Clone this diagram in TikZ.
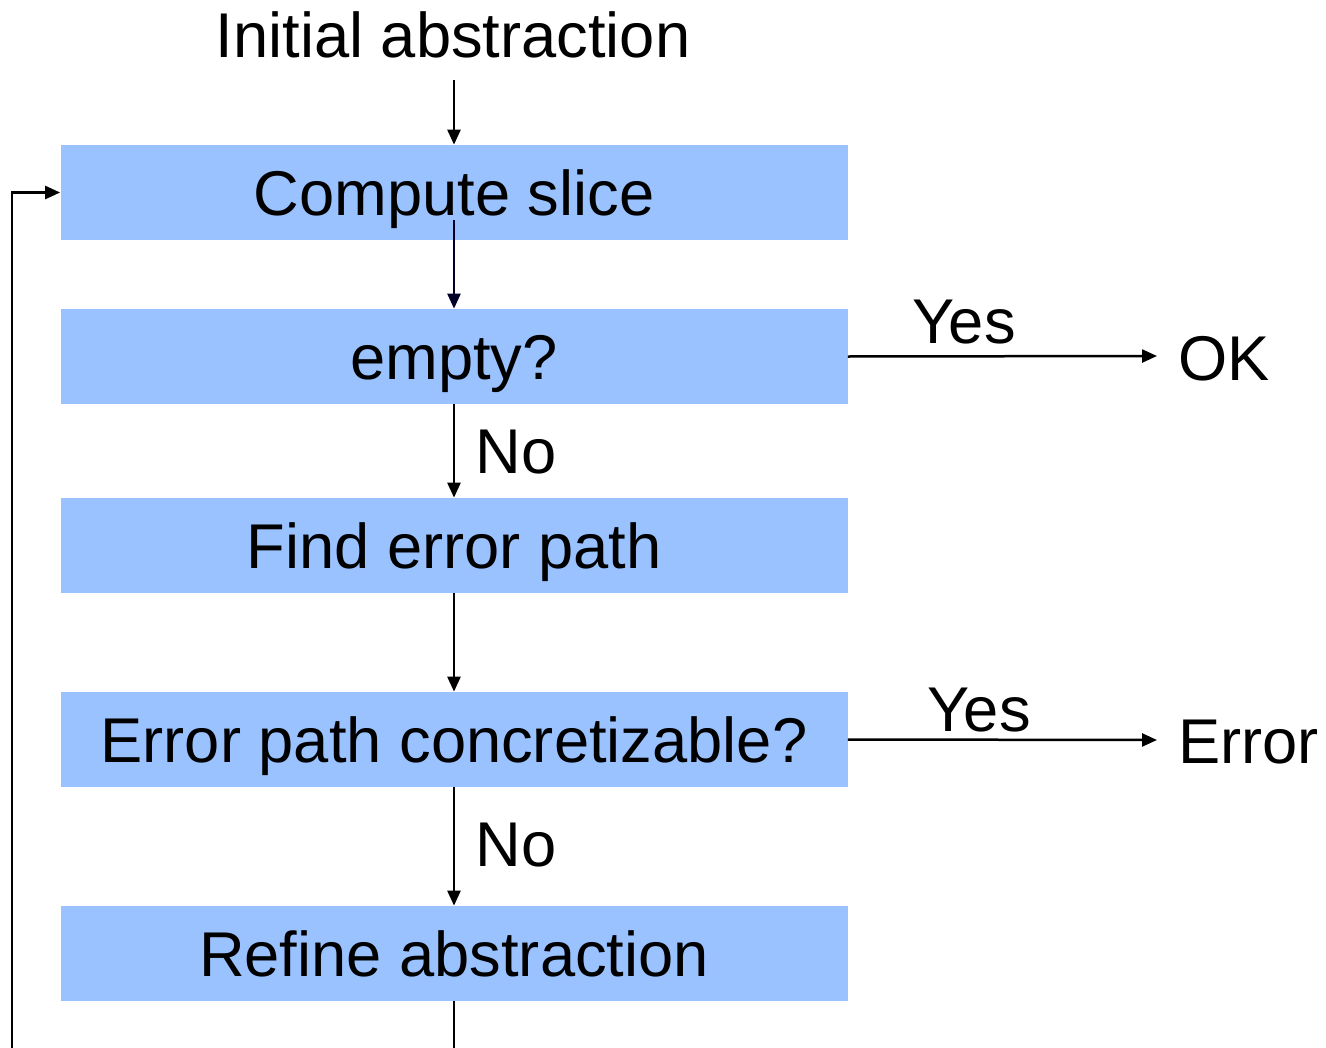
\documentclass[tikz,border=0pt]{standalone}
\usepackage{fontspec}
\setmainfont{Liberation Sans}
\usetikzlibrary{arrows.meta}
\definecolor{boxblue}{RGB}{153,194,255}
\begin{document}
\begin{tikzpicture}[x=0.02cm,y=-0.02cm,
  every node/.style={font=\fontsize{36}{43}\selectfont, inner sep=0pt, text height=25.8pt, text depth=0pt},
  procbox/.style={fill=boxblue, minimum width=787*0.02cm, minimum height=95*0.02cm, anchor=center},
  lbl/.style={anchor=base},
  conn/.style={line width=0.05cm},
  arr/.style={conn, -{Triangle[length=0.3cm,width=0.26cm]}}]
\useasboundingbox (0,0) rectangle (1326,1048);
\node[lbl] (init) at (453,57) {Initial abstraction};
\node[procbox] (cs) at (454,192.5) {Compute slice};
\node[procbox] (es) at (454,356.5) {empty?};
\node[procbox] (fe) at (454,545.5) {Find error path};
\node[procbox] (ep) at (454,739.5) {Error path concretizable?};
\node[procbox] (ra) at (454,953.5) {Refine abstraction};
\node[anchor=west] (ok) at (1178,358) {OK};
\node[anchor=west] (err) at (1178,741) {Error};
\node[lbl] (yes1) at (964,343) {Yes};
\node[lbl] (yes2) at (979,731) {Yes};
\node[lbl,anchor=base west] (no1) at (475,473) {No};
\node[lbl,anchor=base west] (no2) at (475,866) {No};
\coordinate (c0) at (454,80);
\coordinate (c1) at (454,220);
\coordinate (okin) at (1157,356);
\coordinate (errin) at (1157,740);
\coordinate (b1) at (454,1060);
\coordinate (b2) at (12,1060);
\draw[arr] (c0) -- (cs.north);
\draw[arr, draw=black!85!blue] (c1) -- (es.north);
\draw[arr] (es.south) -- (fe.north);
\draw[arr] (fe.south) -- (ep.north);
\draw[arr] (ep.south) -- (ra.north);
\draw[arr] (es.east) -- (okin);
\draw[arr] (ep.east) -- (errin);
\draw[conn] (ra.south) -- (b1);
\draw[arr] (b2) |- (cs.west);
\end{tikzpicture}
\end{document}
